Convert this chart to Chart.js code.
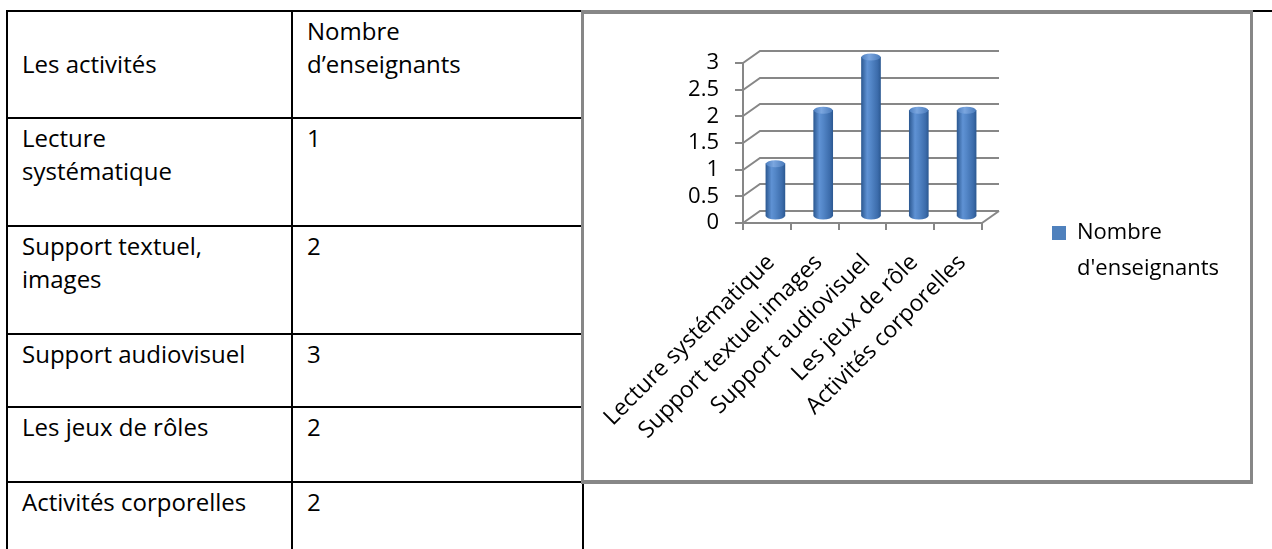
<!DOCTYPE html>
<html lang="fr">
<head>
<meta charset="utf-8">
<title>Les activités – Nombre d'enseignants</title>
<script src="https://cdn.jsdelivr.net/npm/chart.js@4.4.1/dist/chart.umd.min.js"></script>
<style>
  html, body { margin: 0; padding: 0; background: #fff; }
  body { width: 1272px; height: 549px; overflow: hidden; position: relative; font-family: 'Open Sans', sans-serif; color: #000; }
  .top-rule { position: absolute; left: 584px; top: 10px; width: 700px; height: 2px; background: #000; }
  .grid {
    position: absolute; left: 6px; top: 10px;
    display: grid;
    grid-template-columns: 285px 291px;
    grid-template-rows: 107px 108px 108px 73px 75px 90px;
    border-left: 2px solid #000; border-top: 2px solid #000;
  }
  .cell {
    box-sizing: border-box;
    border-right: 2px solid #000; border-bottom: 2px solid #000;
    padding: 2px 8px 0 14px;
    font-size: 24px; line-height: 33px;
    white-space: pre-line;
  }
  .cell.lead { padding-top: 35px; }
  .chart-box {
    position: absolute; left: 581px; top: 10px; width: 672px; height: 474px;
    box-sizing: border-box; border: 3px solid #878787; border-top-width: 4px; border-bottom-width: 4px;
    background: #fff;
  }
  .chart-wrap { position: absolute; left: 0; top: 0; width: 666px; height: 466px; }
</style>
</head>
<body>
<div class="top-rule"></div>
<div class="grid" id="table"></div>
<div class="chart-box"><div class="chart-wrap"><canvas id="chart"></canvas></div></div>

<script>
// Table content
const tableHeaders = ['Les activités', 'Nombre\nd’enseignants'];
const tableActivities = ['Lecture\nsystématique', 'Support textuel,\nimages', 'Support audiovisuel', 'Les jeux de rôles', 'Activités corporelles'];

// Chart content
const categories = ['Lecture systématique', 'Support textuel,images', 'Support audiovisuel', 'Les jeux de rôle', 'Activités corporelles'];
const teachers = [1, 2, 3, 2, 2];
const seriesLabel = "Nombre d'enseignants";
const yTicks = [0, 0.5, 1, 1.5, 2, 2.5, 3];

// Build the table
const table = document.getElementById('table');
function addCell(text, cls) {
  const d = document.createElement('div');
  d.className = 'cell' + (cls ? ' ' + cls : '');
  d.textContent = text;
  table.appendChild(d);
}
addCell(tableHeaders[0], 'lead');
addCell(tableHeaders[1]);
tableActivities.forEach((a, i) => { addCell(a); addCell(String(teachers[i])); });

// Perspective depth of the 3-D plot box
const DEPTH_X = 17, DEPTH_Y = -12;
const AXIS_GREY = '#878787';
const BAR_BLUE = '#4f81bd';

function bodyGradient(ctx, x, half) {
  const g = ctx.createLinearGradient(x - half, 0, x + half, 0);
  g.addColorStop(0, '#2d5a93');
  g.addColorStop(0.3, '#5f92d4');
  g.addColorStop(0.5, '#5386c7');
  g.addColorStop(0.85, '#3c6cab');
  g.addColorStop(1, '#2d5a93');
  return g;
}
function capGradient(ctx, x, half) {
  const g = ctx.createLinearGradient(x - half, 0, x + half, 0);
  g.addColorStop(0, '#4d7fc0');
  g.addColorStop(0.4, '#7ba6df');
  g.addColorStop(1, '#4a7bbb');
  return g;
}

const plotBox3d = {
  id: 'plotBox3d',
  beforeDatasetsDraw(chart) {
    const { ctx, chartArea: a, scales: { y } } = chart;
    ctx.save();
    ctx.strokeStyle = AXIS_GREY;
    ctx.lineWidth = 2;
    y.ticks.forEach(t => {
      const py = Math.round(y.getPixelForValue(t.value));
      ctx.beginPath();
      ctx.moveTo(a.left, py);
      ctx.lineTo(a.left + DEPTH_X, py + DEPTH_Y);
      ctx.lineTo(a.right + DEPTH_X, py + DEPTH_Y);
      ctx.stroke();
    });
    ctx.beginPath();
    ctx.moveTo(a.right, a.bottom);
    ctx.lineTo(a.right + DEPTH_X, a.bottom + DEPTH_Y);
    ctx.stroke();
    ctx.restore();
    // columns stand in the middle of the floor depth
    ctx.save();
    ctx.translate(DEPTH_X / 2, DEPTH_Y / 2);
  },
  afterDatasetsDraw(chart) {
    const { ctx } = chart;
    const meta = chart.getDatasetMeta(0);
    meta.data.forEach(bar => {
      const { x, y, base, width } = bar.getProps(['x', 'y', 'base', 'width'], true);
      if (![x, y, base, width].every(Number.isFinite)) return;
      const half = width / 2;
      ctx.fillStyle = bodyGradient(ctx, x, half);
      ctx.beginPath();
      ctx.ellipse(x, base, half, 3.5, 0, 0, Math.PI);
      ctx.fill();
      ctx.fillStyle = capGradient(ctx, x, half);
      ctx.beginPath();
      ctx.ellipse(x, y, half, 3.5, 0, 0, Math.PI * 2);
      ctx.fill();
    });
    ctx.restore();
  },
  afterDraw(chart) {
    const { ctx } = chart;
    const ds = chart.data.datasets[0];
    const lines = ds.label.split(' ');
    ctx.save();
    ctx.fillStyle = BAR_BLUE;
    ctx.fillRect(468, 212, 14, 14);
    ctx.fillStyle = '#000';
    ctx.font = "22px 'Open Sans'";
    ctx.textBaseline = 'alphabetic';
    ctx.textAlign = 'left';
    lines.forEach((l, i) => ctx.fillText(l, 493, 225 + i * 36));
    ctx.restore();
  }
};

Chart.defaults.font.family = "'Open Sans', sans-serif";
Chart.defaults.color = '#000';

new Chart(document.getElementById('chart'), {
  type: 'bar',
  data: {
    labels: categories,
    datasets: [{
      label: seriesLabel,
      data: teachers,
      barThickness: 19,
      clip: false,
      borderWidth: 0,
      backgroundColor(c) {
        const chart = c.chart;
        if (c.dataIndex === undefined || !chart.scales || !chart.scales.x) return BAR_BLUE;
        const x = chart.scales.x.getPixelForValue(c.dataIndex);
        if (!Number.isFinite(x)) return BAR_BLUE;
        return bodyGradient(chart.ctx, x, 9.5);
      }
    }]
  },
  options: {
    responsive: true,
    maintainAspectRatio: false,
    animation: false,
    devicePixelRatio: 1,
    layout: { padding: { left: 0, top: 49, right: 268, bottom: 0 } },
    plugins: { legend: { display: false }, tooltip: { enabled: false } },
    scales: {
      x: {
        grid: { offset: true, drawOnChartArea: false, tickLength: 7, color: AXIS_GREY, lineWidth: 2 },
        border: { color: AXIS_GREY, width: 2 },
        ticks: { minRotation: 45, maxRotation: 45, autoSkip: false, font: { size: 23 }, padding: 19, labelOffset: 4 },
        afterFit(s) { s.height = 257; s.paddingLeft = 0; s.paddingRight = 0; }
      },
      y: {
        min: 0, max: 3,
        afterBuildTicks(s) { s.ticks = yTicks.map(v => ({ value: v })); },
        grid: { drawOnChartArea: false, tickLength: 8, color: AXIS_GREY, lineWidth: 2 },
        border: { color: AXIS_GREY, width: 2 },
        ticks: { font: { size: 22 }, padding: 16, autoSkip: false, callback: v => String(v) },
        afterFit(s) { s.width = 159; s.paddingTop = 0; s.paddingBottom = 0; }
      }
    }
  },
  plugins: [plotBox3d]
});
</script>
</body>
</html>
